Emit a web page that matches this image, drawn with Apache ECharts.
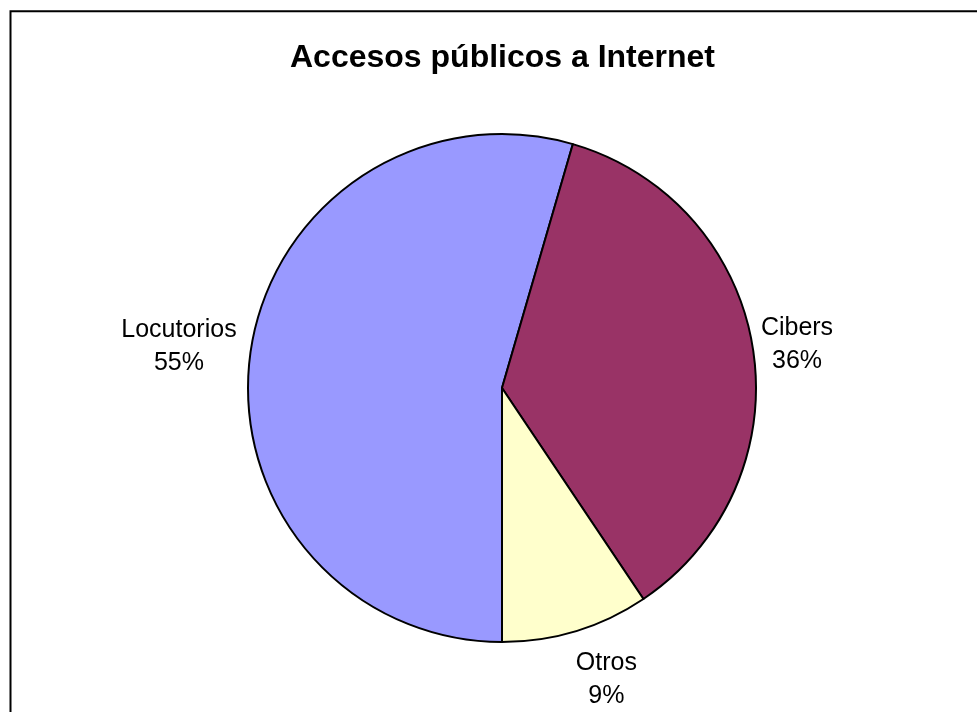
<!DOCTYPE html>
<html>
<head>
<meta charset="utf-8">
<script src="https://cdn.jsdelivr.net/npm/echarts@6/dist/echarts.min.js"></script>
<style>
html,body{margin:0;padding:0;background:#fff;}
#chart{width:977px;height:712px;}
</style>
</head>
<body>
<div id="chart"></div>
<script>
const categories = ['Locutorios', 'Cibers', 'Otros'];
const values = [54.5, 36.1, 9.4];
const colors = ['#9999FF', '#993366', '#FFFFCC'];
const titleText = 'Accesos públicos a Internet';

// label nudges (style), relative to the library's own label layout
const labelNudge = [[1, -4], [-7, -3], [-8, 39]];

const chart = echarts.init(document.getElementById('chart'));
chart.setOption({
  backgroundColor: '#fff',
  animation: false,
  title: {
    text: titleText,
    left: 285,
    top: 37,
    textStyle: { fontFamily: 'Liberation Sans, Arial, sans-serif', fontSize: 32, fontWeight: 'bold', color: '#000' }
  },
  graphic: [{
    type: 'rect',
    shape: { x: 10.5, y: 11.3, width: 2000, height: 2000 },
    style: { fill: 'none', stroke: '#000', lineWidth: 2 },
    silent: true
  }],
  series: [{
    type: 'pie',
    center: [502, 388],
    radius: 254,
    startAngle: -90,
    clockwise: true,
    avoidLabelOverlap: false,
    data: categories.map((c, i) => ({ name: c, value: values[i], itemStyle: { color: colors[i] } })),
    itemStyle: { borderColor: '#000', borderWidth: 2 },
    label: {
      show: true,
      position: 'outside',
      formatter: p => p.name + '\n' + Math.round(p.percent) + '%',
      fontFamily: 'Liberation Sans, Arial, sans-serif',
      fontSize: 25,
      lineHeight: 33,
      color: '#000'
    },
    labelLine: { show: false, length: 10, length2: 0 },
    labelLayout: p => {
      const n = labelNudge[p.dataIndex];
      return {
        x: p.labelRect.x + p.labelRect.width / 2 + n[0],
        y: p.labelRect.y + p.labelRect.height / 2 + n[1],
        align: 'center',
        verticalAlign: 'middle'
      };
    },
    emphasis: { disabled: true }
  }]
});
</script>
</body>
</html>
